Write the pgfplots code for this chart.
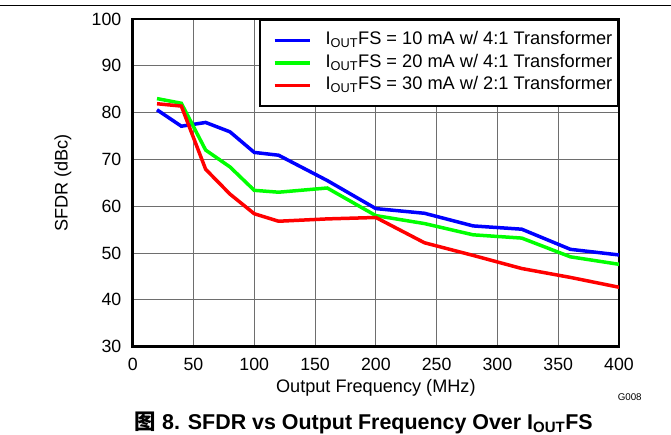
\documentclass[border=0pt]{standalone}
\usepackage{fontspec}
\setmainfont{Liberation Sans}
\newfontfamily\cjk{Noto Sans CJK SC}
\usepackage{pgfplots}
\pgfplotsset{compat=1.18}
\definecolor{gridgray}{RGB}{110,110,110}

\begin{document}
\begin{tikzpicture}
\useasboundingbox (-132.7bp,-88.3bp) rectangle (538.3bp,346.7bp);
\draw[line width=1bp] (-132.7bp,341.2bp) -- (538.3bp,341.2bp);
\begin{axis}[
  scale only axis, width=486.3bp, height=327.7bp,
  xmin=0, xmax=400, ymin=30, ymax=100,
  xtick={0,50,...,400}, ytick={30,40,...,100},
  grid=major, major grid style={gridgray, line width=0.9bp},
  major tick length=0pt,
  axis line style={line width=2.4bp},
  /pgf/number format/assume math mode=true,
  tick label style={font=\fontsize{17.8}{21}\selectfont, inner sep=0pt},
  xticklabel style={anchor=center, yshift=-17.3bp},
  yticklabel style={anchor=east, xshift=-11.2bp},
  label style={font=\fontsize{18.2}{22}\selectfont},
  xlabel={Output Frequency (MHz)},
  xlabel style={at={(axis description cs:0.5,-0.1398)}, anchor=base},
  ylabel={SFDR (dBc)},
  ylabel style={at={(axis description cs:-0.1433,0.5)}, anchor=center},
  legend cell align=left,
  legend style={at={(rel axis cs:1,1)}, anchor=north east, draw=black,
    line width=2.2bp, fill=white, font=\fontsize{18.3}{22}\selectfont,
    inner xsep=4bp, inner ysep=9.5bp, row sep=0.6bp,
    nodes={inner sep=1.65bp, text height=13.4bp, text depth=5.2bp}},
  legend image code/.code={\path (0bp,0bp); \draw[#1] (9bp,0bp) -- (44bp,0bp); \path (56.5bp,0bp);},
]
\addplot[blue, line width=3.5bp] coordinates {
  (20,80.6) (40,77.1) (60,77.9) (80,75.9) (100,71.5) (120,70.9) (160,65.5)
  (200,59.5) (240,58.5) (280,55.8) (320,55.1) (360,50.8) (400,49.6)};
\addlegendentry{I\textsubscript{OUT}FS = 10 mA w/ 4:1 Transformer}
\addplot[green, line width=3.5bp] coordinates {
  (20,83.0) (40,82.0) (60,72.0) (80,68.4) (100,63.4) (120,63.0) (160,63.9)
  (200,58.0) (240,56.3) (280,53.9) (320,53.2) (360,49.2) (400,47.6)};
\addlegendentry{I\textsubscript{OUT}FS = 20 mA w/ 4:1 Transformer}
\addplot[red, line width=3.5bp] coordinates {
  (20,81.9) (40,81.4) (60,67.9) (80,62.6) (100,58.4) (120,56.8) (160,57.3)
  (200,57.6) (240,52.2) (280,49.5) (320,46.7) (360,44.8) (400,42.7)};
\addlegendentry{I\textsubscript{OUT}FS = 30 mA w/ 2:1 Transformer}
\end{axis}
\node[font=\fontsize{9.8}{11}\selectfont] at (497bp,-50bp) {G008};
\node[font=\fontsize{21.5}{25}\selectfont\bfseries, anchor=base] at (231bp,-82.3bp)
  {{\cjk 图} 8. SFDR vs Output Frequency Over I\textsubscript{OUT}FS};
\end{tikzpicture}
\end{document}
